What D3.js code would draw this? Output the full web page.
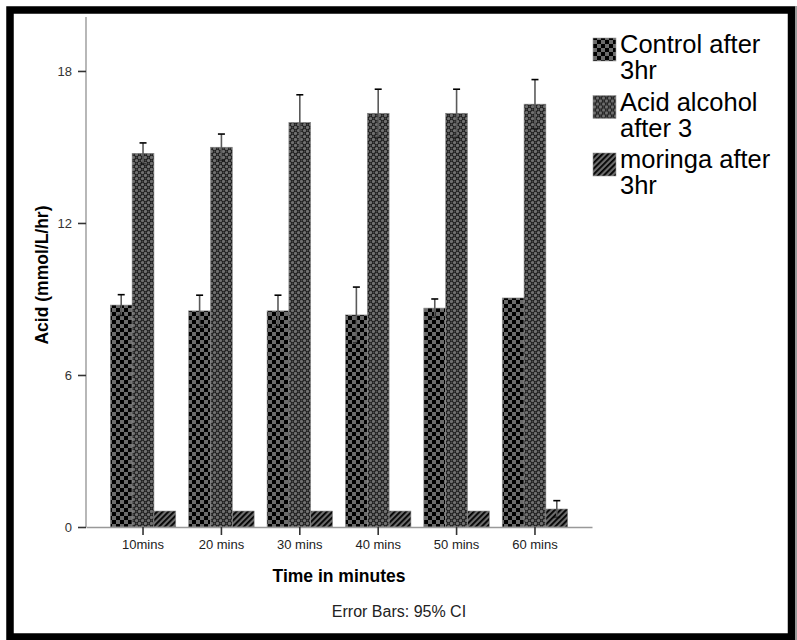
<!DOCTYPE html>
<html>
<head>
<meta charset="utf-8">
<script src="https://cdn.jsdelivr.net/npm/d3@7"></script>
<style>
  html, body { margin: 0; padding: 0; background: #fff; }
  svg { display: block; font-family: "Liberation Sans", Arial, sans-serif; }
</style>
</head>
<body>
<svg id="chart" width="797" height="640"></svg>
<script>
// ---- data ----
const categories = ["10mins", "20 mins", "30 mins", "40 mins", "50 mins", "60 mins"];
const seriesNames = ["Control after 3hr", "Acid alcohol after 3", "moringa after 3hr"];
const legendLines = [["Control after", "3hr"], ["Acid alcohol", "after 3"], ["moringa after", "3hr"]];

const controlMean  = [8.76, 8.53, 8.53, 8.37, 8.64, 9.04];
const controlUpper = [9.17, 9.15, 9.15, 9.47, 9.00, 9.04];
const controlLower = [8.35, 7.91, 7.91, 7.27, 8.28, 9.04];

const acidMean  = [14.75, 14.99, 15.97, 16.33, 16.33, 16.69];
const acidUpper = [15.16, 15.51, 17.06, 17.28, 17.28, 17.66];
const acidLower = [14.34, 14.47, 14.88, 15.38, 15.38, 15.72];

const moringaMean  = [0.63, 0.63, 0.63, 0.63, 0.63, 0.71];
const moringaUpper = [0.63, 0.63, 0.63, 0.63, 0.63, 1.04];
const moringaLower = [0.63, 0.63, 0.63, 0.63, 0.63, 0.38];

const yTicks = [0, 6, 12, 18];
const yMax = 20.13;

// ---- build ----
const svg = d3.select("#chart");
const defs = svg.append("defs");

// patterns
const pCtrl = defs.append("pattern").attr("id", "pat0").attr("patternUnits", "userSpaceOnUse")
  .attr("width", 8).attr("height", 8);
pCtrl.append("rect").attr("width", 8).attr("height", 8).attr("fill", "#6b6b6b");
pCtrl.append("rect").attr("width", 4).attr("height", 4).attr("fill", "#000");
pCtrl.append("rect").attr("x", 4).attr("y", 4).attr("width", 4).attr("height", 4).attr("fill", "#000");

const pAcid = defs.append("pattern").attr("id", "pat1").attr("patternUnits", "userSpaceOnUse")
  .attr("width", 6).attr("height", 6);
pAcid.append("rect").attr("width", 6).attr("height", 6).attr("fill", "#1c1c1c");
pAcid.append("circle").attr("cx", 1.5).attr("cy", 1.5).attr("r", 1.6).attr("fill", "#707070");
pAcid.append("circle").attr("cx", 4.5).attr("cy", 4.5).attr("r", 1.6).attr("fill", "#707070");
pAcid.append("circle").attr("cx", 4.5).attr("cy", 1.5).attr("r", 0.9).attr("fill", "#4a4a4a");
pAcid.append("circle").attr("cx", 1.5).attr("cy", 4.5).attr("r", 0.9).attr("fill", "#4a4a4a");

const pMor = defs.append("pattern").attr("id", "pat2").attr("patternUnits", "userSpaceOnUse")
  .attr("width", 4).attr("height", 4).attr("patternTransform", "rotate(45)");
pMor.append("rect").attr("width", 4).attr("height", 4).attr("fill", "#6b6b6b");
pMor.append("rect").attr("width", 1.8).attr("height", 4).attr("fill", "#000");

// frame
svg.append("rect").attr("x", 10).attr("y", 10).attr("width", 781.5).attr("height", 627)
  .attr("fill", "none").attr("stroke", "#000").attr("stroke-width", 7.5);
svg.append("line").attr("x1", 796).attr("x2", 796).attr("y1", 6).attr("y2", 640)
  .attr("stroke", "#999").attr("stroke-width", 2);

// scales
const x0 = d3.scaleBand().domain(categories).range([86, 592]).paddingInner(0.165).paddingOuter(0.31);
const x1 = d3.scaleBand().domain(d3.range(3)).range([0, x0.bandwidth()]);
const y = d3.scaleLinear().domain([0, yMax]).range([527, 17]);

const means = [controlMean, acidMean, moringaMean];
const uppers = [controlUpper, acidUpper, moringaUpper];
const lowers = [controlLower, acidLower, moringaLower];

const rows = [];
categories.forEach((c, i) => {
  for (let s = 0; s < 3; s++) {
    rows.push({ cat: c, s, v: means[s][i], hi: uppers[s][i], lo: lowers[s][i] });
  }
});

// bars
svg.append("g").selectAll("rect").data(rows).join("rect")
  .attr("x", d => x0(d.cat) + x1(d.s))
  .attr("y", d => y(d.v))
  .attr("width", x1.bandwidth())
  .attr("height", d => y(0) - y(d.v))
  .attr("fill", d => `url(#pat${d.s})`)
  .attr("stroke", "#8a8a8a").attr("stroke-width", 0.6);

// error bars
const eb = svg.append("g").selectAll("g").data(rows.filter(d => d.hi - d.lo > 0.01)).join("g")
  .attr("transform", d => `translate(${x0(d.cat) + x1(d.s) + x1.bandwidth() / 2},0)`);
eb.append("line").attr("y1", d => y(d.hi)).attr("y2", d => y(d.lo))
  .attr("stroke", "#5a5a5a").attr("stroke-width", 1.6);
eb.append("line").attr("x1", -3.5).attr("x2", 3.5).attr("y1", d => y(d.hi)).attr("y2", d => y(d.hi))
  .attr("stroke", "#000").attr("stroke-width", 1.6);
eb.append("line").attr("x1", -3.5).attr("x2", 3.5).attr("y1", d => y(d.lo)).attr("y2", d => y(d.lo))
  .attr("stroke", "#000").attr("stroke-width", 1.6).attr("opacity", 0.5);

// y axis
const yAxis = svg.append("g").attr("transform", "translate(86,0)")
  .call(d3.axisLeft(y).tickValues(yTicks).tickSize(8).tickPadding(6).tickSizeOuter(0));
yAxis.select(".domain").attr("d", `M0,${y(yMax)}V${y(0)}`).attr("stroke", "#888").attr("stroke-width", 1.2);
yAxis.selectAll(".tick line").attr("stroke", "#333").attr("stroke-width", 1.6);
yAxis.selectAll(".tick text").attr("fill", "#333").attr("font-size", 13)
  .attr("font-family", "Liberation Sans, Arial, sans-serif");

// x axis
const xAxis = svg.append("g").attr("transform", `translate(0,${y(0)})`)
  .call(d3.axisBottom(x0).tickSize(8).tickPadding(5).tickSizeOuter(0));
xAxis.select(".domain").attr("stroke", "#999").attr("stroke-width", 1.5);
xAxis.selectAll(".tick line").attr("stroke", "#333").attr("stroke-width", 1.6);
xAxis.selectAll(".tick text").attr("fill", "#222").attr("font-size", 13)
  .attr("font-family", "Liberation Sans, Arial, sans-serif");

// axis titles
svg.append("text").attr("x", 339).attr("y", 582).attr("text-anchor", "middle")
  .attr("font-size", 17.5).attr("font-weight", "bold").attr("fill", "#000").text("Time in minutes");
svg.append("text").attr("transform", `translate(48,275) rotate(-90)`).attr("text-anchor", "middle")
  .attr("font-size", 17.5).attr("font-weight", "bold").attr("fill", "#000").text("Acid (mmol/L/hr)");
svg.append("text").attr("x", 399).attr("y", 617).attr("text-anchor", "middle")
  .attr("font-size", 16).attr("fill", "#222").text("Error Bars: 95% CI");

// legend
const lg = svg.append("g").selectAll("g").data(seriesNames).join("g")
  .attr("transform", (d, i) => `translate(593,${36 + i * 57.5})`);
lg.append("rect").attr("width", 23).attr("height", 23).attr("y", 2)
  .attr("fill", (d, i) => `url(#pat${i})`).attr("stroke", "#999").attr("stroke-width", 0.6);
lg.each(function (d, i) {
  const t = d3.select(this).append("text").attr("x", 27).attr("y", 17)
    .attr("font-size", 25.5).attr("fill", "#000");
  legendLines[i].forEach((ln, k) => {
    t.append("tspan").attr("x", 27).attr("dy", k === 0 ? 0 : 26).text(ln);
  });
});
</script>
</body>
</html>
